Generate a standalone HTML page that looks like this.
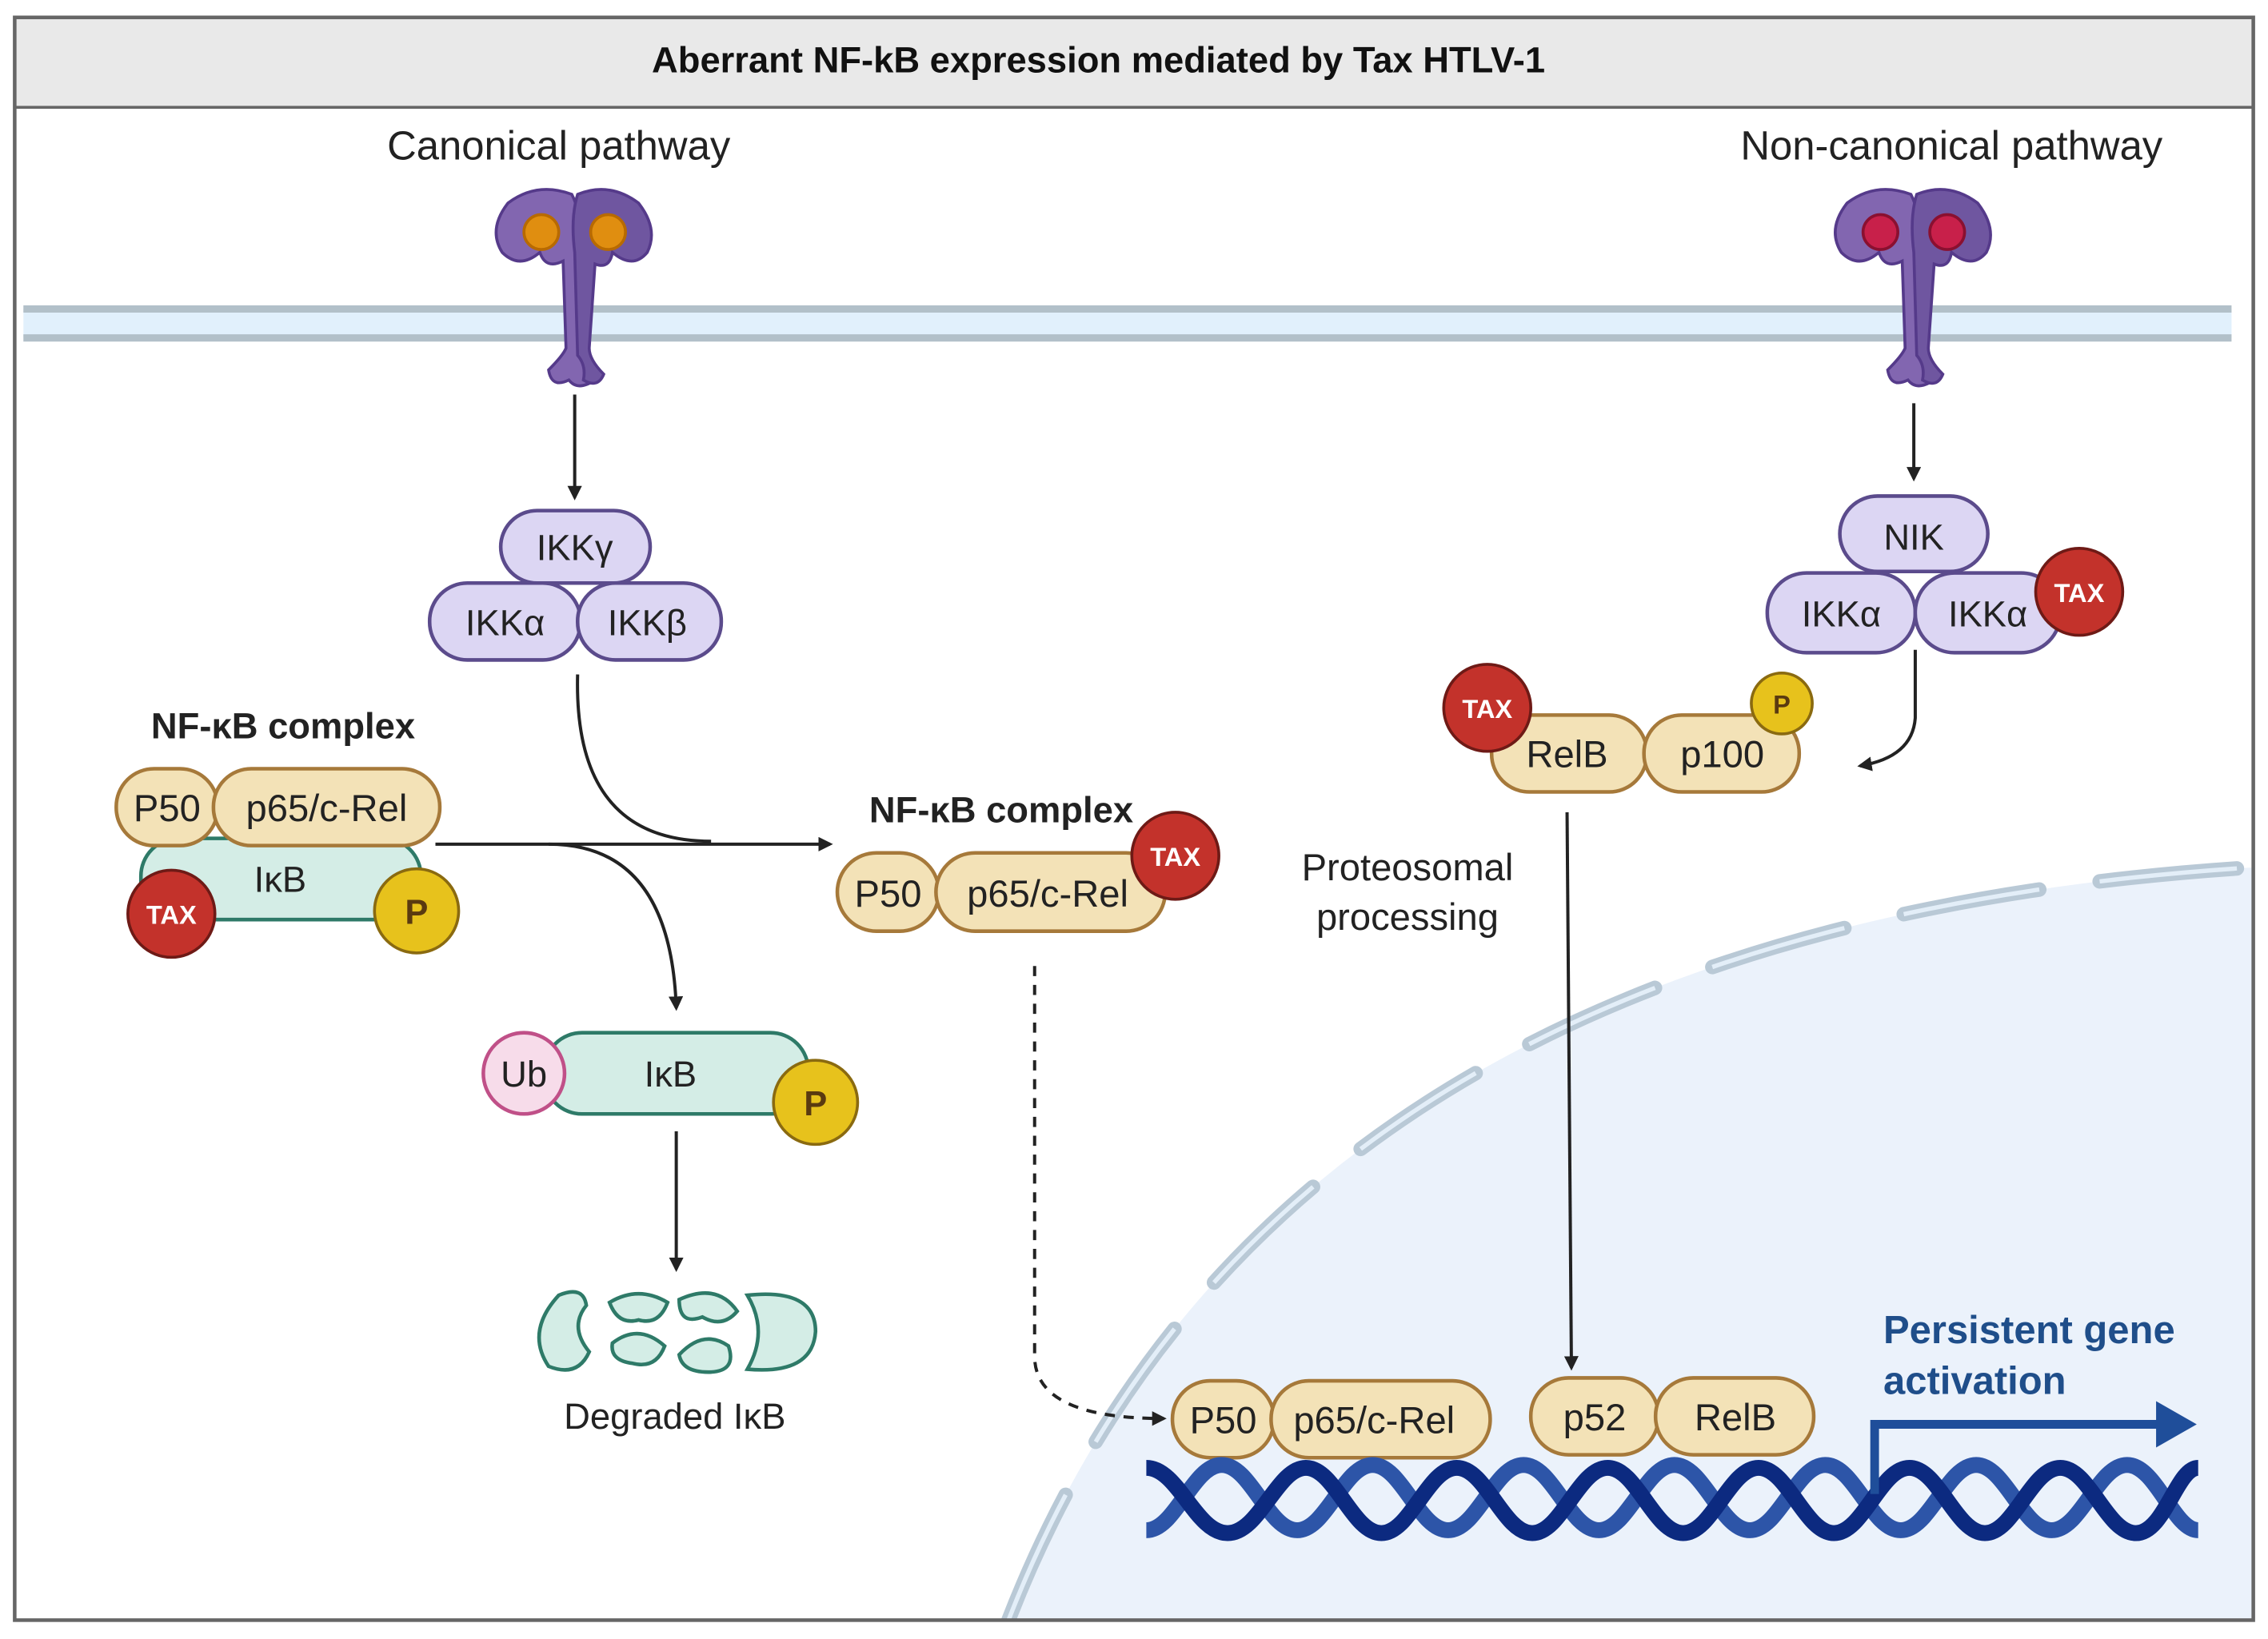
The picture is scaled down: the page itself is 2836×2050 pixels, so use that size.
<!DOCTYPE html>
<html><head><meta charset="utf-8"><style>
html,body{margin:0;padding:0;background:#fff}
svg{display:block}
text{font-family:"Liberation Sans",sans-serif}
</style></head><body>
<svg width="2836" height="2050" viewBox="0 0 1563 1130" xmlns="http://www.w3.org/2000/svg">
<defs>
<marker id="ah" markerWidth="10" markerHeight="10" refX="8" refY="5" orient="auto" markerUnits="userSpaceOnUse"><path d="M0,0 L10,5 L0,10 Z" fill="#222"/></marker>
<clipPath id="fr"><rect x="11" y="74" width="1541" height="1042"/></clipPath>
</defs>
<rect x="0" y="0" width="1563" height="1130" fill="#fff"/>
<g clip-path="url(#fr)">
<path d="M695,1117 Q880,640 1553,598 L1553,1117 Z" fill="#ebf2fb"/>
<path d="M695,1117 Q880,640 1553,598" fill="none" stroke="#b9c9d6" stroke-width="10" stroke-linecap="round" stroke-dasharray="95 42"/>
<path d="M695,1117 Q880,640 1553,598" fill="none" stroke="#e3eef8" stroke-width="3" stroke-dasharray="95 42"/>
</g>
<rect x="10" y="12" width="1543" height="62" fill="#e9e9e9" stroke="#666" stroke-width="2"/>
<rect x="10" y="12" width="1543" height="1105" fill="none" stroke="#666" stroke-width="2.5"/>
<text x="757" y="50" font-size="25" font-weight="bold" text-anchor="middle" fill="#111">Aberrant NF-kB expression mediated by Tax HTLV-1</text>
<text x="385" y="110" font-size="28" text-anchor="middle" fill="#222">Canonical pathway</text>
<text x="1345" y="110" font-size="28" text-anchor="middle" fill="#222">Non-canonical pathway</text>
<rect x="16" y="213" width="1522" height="20" fill="#e1f0fc"/>
<line x1="16" y1="213" x2="1538" y2="213" stroke="#b2c0c9" stroke-width="5"/>
<line x1="16" y1="233" x2="1538" y2="233" stroke="#b2c0c9" stroke-width="5"/>
<g id="rec">
<path d="M350,140 Q370,125 394,134 Q402,150 400,172 L402,245 Q412,250 410,262 Q398,270 392,262 Q380,268 378,255 Q388,245 390,240 L388,180 Q376,186 372,174 Q358,186 346,174 Q336,158 350,140 Z" fill="#8266b0" stroke="#553a8a" stroke-width="2"/>
<path d="M440,140 Q420,125 398,134 Q393,150 396,174 L398,245 Q404,252 402,262 Q412,268 416,258 Q406,248 406,240 L410,182 Q420,186 422,174 Q436,186 446,174 Q454,158 440,140 Z" fill="#6f56a0" stroke="#553a8a" stroke-width="2"/>
</g>
<circle cx="373" cy="160" r="12" fill="#e08e10" stroke="#b86a00" stroke-width="2"/>
<circle cx="419" cy="160" r="12" fill="#e08e10" stroke="#b86a00" stroke-width="2"/>
<use href="#rec" transform="translate(923,0)"/>
<circle cx="1296" cy="160" r="12" fill="#c8204a" stroke="#8a1030" stroke-width="2"/>
<circle cx="1342" cy="160" r="12" fill="#c8204a" stroke="#8a1030" stroke-width="2"/>
<g fill="none" stroke="#222" stroke-width="2.2">
<line x1="396" y1="272" x2="396" y2="343" marker-end="url(#ah)"/>
<line x1="1319" y1="278" x2="1319" y2="330" marker-end="url(#ah)"/>
<path d="M398,465 Q395,580 490,580"/>
<line x1="300" y1="582" x2="572" y2="582" marker-end="url(#ah)"/>
<path d="M378,582 Q462,582 466,695" marker-end="url(#ah)"/>
<line x1="466" y1="780" x2="466" y2="875" marker-end="url(#ah)"/>
<path d="M1320,448 L1320,495 Q1318,522 1282,528" marker-end="url(#ah)"/>
<line x1="1080" y1="560" x2="1083" y2="943" marker-end="url(#ah)"/>
<path d="M713,666 L713,935 Q713,978 802,978" stroke-dasharray="7 6" marker-end="url(#ah)"/>
</g>
<g font-size="25" text-anchor="middle" fill="#222">
<rect x="345" y="352" width="103" height="50" rx="25" fill="#dcd6f3" stroke="#5b4b8c" stroke-width="2.5"/>
<text x="396" y="386">IKKγ</text>
<rect x="296" y="402" width="104" height="53" rx="26" fill="#dcd6f3" stroke="#5b4b8c" stroke-width="2.5"/>
<text x="348" y="438">IKKα</text>
<rect x="398" y="402" width="99" height="53" rx="26" fill="#dcd6f3" stroke="#5b4b8c" stroke-width="2.5"/>
<text x="446" y="438">IKKβ</text>
<rect x="1268" y="342" width="102" height="52" rx="26" fill="#dcd6f3" stroke="#5b4b8c" stroke-width="2.5"/>
<text x="1319" y="379">NIK</text>
<rect x="1218" y="395" width="102" height="55" rx="27" fill="#dcd6f3" stroke="#5b4b8c" stroke-width="2.5"/>
<text x="1269" y="432">IKKα</text>
<rect x="1320" y="395" width="100" height="55" rx="27" fill="#dcd6f3" stroke="#5b4b8c" stroke-width="2.5"/>
<text x="1370" y="432">IKKα</text>
</g>
<text x="195" y="509" font-size="25" font-weight="bold" text-anchor="middle" fill="#222">NF-κB complex</text>
<rect x="97" y="578" width="193" height="56" rx="26" fill="#d4ede6" stroke="#2e7a68" stroke-width="2.5"/>
<text x="193" y="615" font-size="25" text-anchor="middle" fill="#222">IκB</text>
<g font-size="26" text-anchor="middle" fill="#222">
<rect x="80" y="530" width="70" height="53" rx="26" fill="#f3e2b7" stroke="#a6793a" stroke-width="2.5"/>
<text x="115" y="566">P50</text>
<rect x="147" y="530" width="156" height="53" rx="26" fill="#f3e2b7" stroke="#a6793a" stroke-width="2.5"/>
<text x="225" y="566">p65/c-Rel</text>
</g>
<rect x="375" y="712" width="182" height="56" rx="26" fill="#d4ede6" stroke="#2e7a68" stroke-width="2.5"/>
<text x="462" y="749" font-size="25" text-anchor="middle" fill="#222">IκB</text>
<circle cx="361" cy="740" r="28" fill="#f7dcea" stroke="#c05088" stroke-width="2.5"/>
<text x="361" y="749" font-size="25" text-anchor="middle" fill="#222">Ub</text>
<g fill="#d4ede6" stroke="#2e7a68" stroke-width="2.5">
<path d="M385,893 Q402,886 404,900 Q392,915 406,932 Q398,950 378,942 Q362,918 385,893 Z"/>
<path d="M420,898 Q440,886 460,898 Q454,914 440,910 Q426,914 420,898 Z"/>
<path d="M422,926 Q440,912 458,928 Q452,944 436,940 Q420,938 422,926 Z"/>
<path d="M468,896 Q494,884 508,904 Q498,916 484,908 Q468,914 468,896 Z"/>
<path d="M468,934 Q485,916 502,928 Q508,946 488,946 Q470,946 468,934 Z"/>
<path d="M515,893 Q562,888 562,918 Q560,948 515,944 Q530,918 515,893 Z"/>
</g>
<text x="465" y="985" font-size="25" text-anchor="middle" fill="#222">Degraded IκB</text>
<text x="690" y="567" font-size="25" font-weight="bold" text-anchor="middle" fill="#222">NF-κB complex</text>
<g font-size="26" text-anchor="middle" fill="#222">
<rect x="577" y="588" width="70" height="54" rx="27" fill="#f3e2b7" stroke="#a6793a" stroke-width="2.5"/>
<text x="612" y="625">P50</text>
<rect x="645" y="588" width="158" height="54" rx="27" fill="#f3e2b7" stroke="#a6793a" stroke-width="2.5"/>
<text x="722" y="625">p65/c-Rel</text>
<rect x="1028" y="493" width="107" height="53" rx="26" fill="#f3e2b7" stroke="#a6793a" stroke-width="2.5"/>
<text x="1080" y="529">RelB</text>
<rect x="1133" y="493" width="107" height="53" rx="26" fill="#f3e2b7" stroke="#a6793a" stroke-width="2.5"/>
<text x="1187" y="529">p100</text>
<rect x="808" y="952" width="70" height="53" rx="26" fill="#f3e2b7" stroke="#a6793a" stroke-width="2.5"/>
<text x="843" y="988">P50</text>
<rect x="876" y="952" width="151" height="53" rx="26" fill="#f3e2b7" stroke="#a6793a" stroke-width="2.5"/>
<text x="947" y="988">p65/c-Rel</text>
<rect x="1055" y="950" width="88" height="53" rx="26" fill="#f3e2b7" stroke="#a6793a" stroke-width="2.5"/>
<text x="1099" y="986">p52</text>
<rect x="1141" y="950" width="109" height="53" rx="26" fill="#f3e2b7" stroke="#a6793a" stroke-width="2.5"/>
<text x="1196" y="986">RelB</text>
</g>
<text x="970" y="607" font-size="26" text-anchor="middle" fill="#222">Proteosomal</text>
<text x="970" y="641" font-size="26" text-anchor="middle" fill="#222">processing</text>
<g font-weight="bold" text-anchor="middle">
<circle cx="118" cy="630" r="30" fill="#c3322b" stroke="#6e1a16" stroke-width="2"/><text x="118" y="637" font-size="18" fill="#fff">TAX</text>
<circle cx="287" cy="628" r="29" fill="#e7c21c" stroke="#8a6a10" stroke-width="2"/><text x="287" y="637" font-size="24" fill="#5a3a10">P</text>
<circle cx="562" cy="760" r="29" fill="#e7c21c" stroke="#8a6a10" stroke-width="2"/><text x="562" y="769" font-size="24" fill="#5a3a10">P</text>
<circle cx="810" cy="590" r="30" fill="#c3322b" stroke="#6e1a16" stroke-width="2"/><text x="810" y="597" font-size="18" fill="#fff">TAX</text>
<circle cx="1433" cy="408" r="30" fill="#c3322b" stroke="#6e1a16" stroke-width="2"/><text x="1433" y="415" font-size="18" fill="#fff">TAX</text>
<circle cx="1025" cy="488" r="30" fill="#c3322b" stroke="#6e1a16" stroke-width="2"/><text x="1025" y="495" font-size="18" fill="#fff">TAX</text>
<circle cx="1228" cy="485" r="21" fill="#e7c21c" stroke="#8a6a10" stroke-width="2"/><text x="1228" y="492" font-size="18" fill="#5a3a10">P</text>
</g>
<g fill="none" stroke-width="11">
<path d="M790,1055 C810,1055 822,1010 842,1010 S874,1055 894,1055 S926,1010 946,1010 S978,1055 998,1055 S1030,1010 1050,1010 S1082,1055 1102,1055 S1134,1010 1154,1010 S1186,1055 1206,1055 S1238,1010 1258,1010 S1290,1055 1310,1055 S1342,1010 1362,1010 S1394,1055 1414,1055 S1446,1010 1466,1010 S1498,1055 1515,1055" stroke="#2d55a8"/>
<path d="M790,1012 C812,1012 824,1057 846,1057 S880,1012 900,1012 S932,1057 952,1057 S984,1012 1004,1012 S1036,1057 1056,1057 S1088,1012 1108,1012 S1140,1057 1160,1057 S1192,1012 1212,1012 S1244,1057 1264,1057 S1296,1012 1316,1012 S1348,1057 1368,1057 S1400,1012 1420,1012 S1452,1057 1472,1057 S1500,1012 1515,1012" stroke="#0c2a80"/>
</g>
<path d="M1292,1030 L1292,982 L1490,982" fill="none" stroke="#1f4e9a" stroke-width="6"/>
<path d="M1486,966 L1514,982 L1486,998 Z" fill="#1f4e9a"/>
<text x="1298" y="926" font-size="27" font-weight="bold" fill="#1f4e8a">Persistent gene</text>
<text x="1298" y="961" font-size="27" font-weight="bold" fill="#1f4e8a">activation</text>
</svg>
</body></html>
